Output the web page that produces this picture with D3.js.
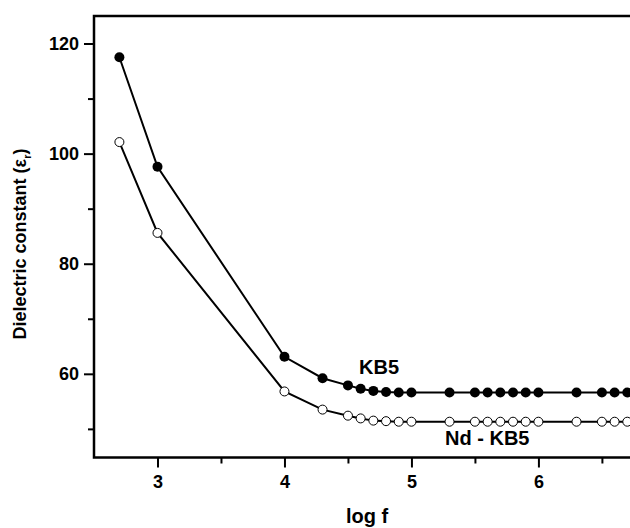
<!DOCTYPE html>
<html><head><meta charset="utf-8">
<script src="https://cdn.jsdelivr.net/npm/d3@7"></script>
<style>
html,body{margin:0;padding:0;background:#fff;overflow:hidden}
text{font-family:"Liberation Sans",Arial,sans-serif;font-weight:bold;fill:#000}
</style></head>
<body>
<script>
const logF = [2.7, 3.0, 4.0, 4.3, 4.5, 4.6, 4.7, 4.8, 4.9, 5.0, 5.3, 5.5, 5.6, 5.7, 5.8, 5.9, 6.0, 6.3, 6.5, 6.6, 6.7];
const kb5 = [117.5, 97.6, 63.1, 59.2, 57.9, 57.3, 56.9, 56.7, 56.6, 56.6, 56.6, 56.6, 56.6, 56.6, 56.6, 56.6, 56.6, 56.6, 56.6, 56.6, 56.6];
const ndKb5 = [102.1, 85.6, 56.8, 53.5, 52.4, 51.9, 51.5, 51.4, 51.3, 51.3, 51.3, 51.3, 51.3, 51.3, 51.3, 51.3, 51.3, 51.3, 51.3, 51.3, 51.3];
const xMajor = [3, 4, 5, 6];
const xMinor = [3.5, 4.5, 5.5, 6.5];
const yMajor = [60, 80, 100, 120];
const yMinor = [50, 70, 90, 110];

const W = 630, H = 528;
const L = 94, R = 640, T = 16, B = 457.5;
const svg = d3.select("body").append("svg").attr("width", W).attr("height", H);
const x = d3.scaleLinear().domain([2.5, 6.8]).range([L, R]);
const y = d3.scaleLinear().domain([44.8, 125]).range([B, T]);

// frame
svg.append("rect").attr("x", L).attr("y", T).attr("width", R - L).attr("height", B - T)
  .attr("fill", "none").attr("stroke", "#000").attr("stroke-width", 2.5);

// x axis
const gx = svg.append("g").attr("transform", `translate(0,${B})`);
gx.call(d3.axisBottom(x).tickValues(xMajor).tickSize(10).tickPadding(8).tickFormat(d3.format("d")));
gx.append("g").call(d3.axisBottom(x).tickValues(xMinor).tickSize(6).tickFormat(""));
gx.selectAll(".domain").remove();
gx.selectAll("line").attr("stroke", "#000").attr("stroke-width", 2);
gx.selectAll("text").style("font-size", "18px").style("font-family", "Liberation Sans, Arial, sans-serif").style("font-weight", "bold");

// y axis
const gy = svg.append("g").attr("transform", `translate(${L},0)`);
gy.call(d3.axisLeft(y).tickValues(yMajor).tickSize(10).tickPadding(5).tickFormat(d3.format("d")));
gy.append("g").call(d3.axisLeft(y).tickValues(yMinor).tickSize(6).tickFormat(""));
gy.selectAll(".domain").remove();
gy.selectAll("line").attr("stroke", "#000").attr("stroke-width", 2);
gy.selectAll("text").style("font-size", "18px").style("font-family", "Liberation Sans, Arial, sans-serif").style("font-weight", "bold");

// axis titles
svg.append("text").attr("x", 367).attr("y", 523).attr("text-anchor", "middle")
  .style("font-size", "20px").text("log f");
const yl = svg.append("text").attr("transform", `translate(26,244) rotate(-90)`)
  .attr("text-anchor", "middle").style("font-size", "18px");
yl.append("tspan").text("Dielectric constant (ε");
yl.append("tspan").attr("dy", 5).style("font-size", "11px").text("r");
yl.append("tspan").attr("dy", -5).text(")");

// series
const line = d3.line().x(d => x(d[0])).y(d => y(d[1]));
const s1 = logF.map((v, i) => [v, kb5[i]]);
const s2 = logF.map((v, i) => [v, ndKb5[i]]);
[s1, s2].forEach(s => svg.append("path").datum(s).attr("d", line)
  .attr("fill", "none").attr("stroke", "#000").attr("stroke-width", 2));
svg.selectAll(".p1").data(s1).join("circle").attr("cx", d => x(d[0])).attr("cy", d => y(d[1]))
  .attr("r", 5).attr("fill", "#000");
svg.selectAll(".p2").data(s2).join("circle").attr("cx", d => x(d[0])).attr("cy", d => y(d[1]))
  .attr("r", 4.5).attr("fill", "#fff").attr("stroke", "#000").attr("stroke-width", 1);

// labels
svg.append("text").attr("x", 359).attr("y", 374).style("font-size", "20px").text("KB5");
svg.append("text").attr("x", 445).attr("y", 445).style("font-size", "20px").text("Nd - KB5");
</script>
</body></html>
